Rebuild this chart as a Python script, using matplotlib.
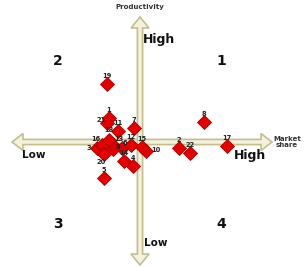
import numpy as np
import matplotlib
matplotlib.use('Agg')
import matplotlib.pyplot as plt
from matplotlib.patches import Polygon

# positions relative to the crossing of the two axes (market share, productivity)
ids = [1, 2, 3, 4, 5, 6, 7, 8, 9, 10, 11, 12, 13, 14, 15, 16, 17, 18, 19, 20, 21, 22]
market_share = [-31, 39, -43, -7, -36, -18, -6, 64, -27, 6, -22, -9, -28, -16, 2, -38, 87, -31, -33, -36, -33, 50]
productivity = [24, -6, -6, -24, -36, -6, 14, 20, -7, -9, 11, -3, -2, -19, -5, -3, -4, 2, 58, -12, 19, -11]

quadrants = ['1', '2', '3', '4']

# label offsets in pixels for the few labels not drawn above their marker
label_offsets = {3: (-8, 0), 20: (-3, -8), 10: (10, 1), 21: (-6, 3), 9: (5, 2), 6: (3, 5),
                 16: (-6, 6), 13: (7, 5), 18: (0, 10)}

FILL = '#f4f1dc'
EDGE = '#c6bd8f'


def double_arrow(x0, x1, c, shaft, head_w, head_l, vertical=False):
    pts = [(x0, c), (x0 + head_l, c + head_w), (x0 + head_l, c + shaft),
           (x1 - head_l, c + shaft), (x1 - head_l, c + head_w), (x1, c),
           (x1 - head_l, c - head_w), (x1 - head_l, c - shaft),
           (x0 + head_l, c - shaft), (x0 + head_l, c - head_w)]
    if vertical:
        pts = [(b, a) for a, b in pts]
    return Polygon(pts, closed=True, facecolor=FILL, edgecolor=EDGE, lw=1.2, zorder=1)


fig = plt.figure(figsize=(3.05, 2.67), dpi=100)
ax = fig.add_axes([0, 0, 1, 1])
ax.set_xlim(-140, 165)
ax.set_ylim(-125, 142)
ax.axis('off')

ax.add_patch(double_arrow(-128, 132, 0, 2.6, 8.5, 11))
ax.add_patch(double_arrow(-123, 125, 0, 2.6, 9, 11, vertical=True))

ax.plot(market_share, productivity, 'D', ms=7.5, color='#e30000',
        markeredgecolor='#a80000', markeredgewidth=0.6, zorder=3)

for i, x, y in zip(ids, market_share, productivity):
    dx, dy = label_offsets.get(i, (0, 8))
    ax.annotate(str(i), (x, y), xytext=(dx * 0.72, dy * 0.72), textcoords='offset points',
                ha='center', va='center', fontsize=4.8, fontweight='bold', color='#222222', zorder=4)

ax.text(0, 135, 'Productivity', ha='center', va='center', fontsize=5, fontweight='bold', color='#333333')
ax.text(147, 0, 'Market\nshare', ha='center', va='center', fontsize=5, fontweight='bold',
        color='#333333', linespacing=1.1)
ax.text(3, 102, 'High', ha='left', va='center', fontsize=9, fontweight='bold', color='#111111')
ax.text(94, -13, 'High', ha='left', va='center', fontsize=9, fontweight='bold', color='#111111')
ax.text(-118, -13, 'Low', ha='left', va='center', fontsize=7.5, fontweight='bold', color='#111111')
ax.text(4, -101, 'Low', ha='left', va='center', fontsize=7.5, fontweight='bold', color='#111111')

quad_x = [81, -82, -82, 81]
quad_y = [81, 81, -82, -82]
for q, x, y in zip(quadrants, quad_x, quad_y):
    ax.text(x, y, q, ha='center', va='center', fontsize=10, fontweight='bold', color='#111111')

fig.savefig('out.png', dpi=100)
